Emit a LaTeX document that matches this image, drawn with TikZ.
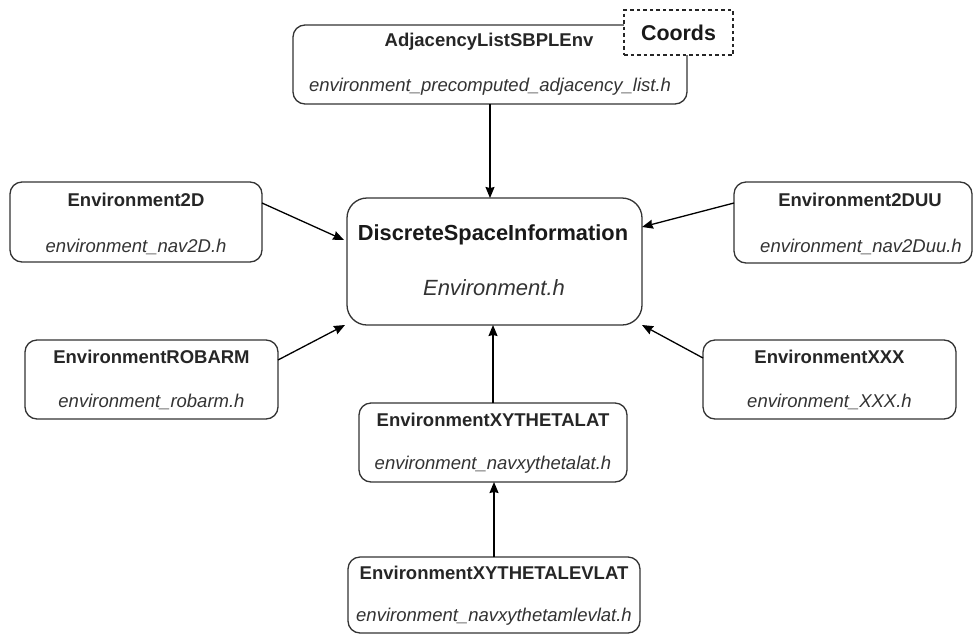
\documentclass[tikz,border=0pt]{standalone}
\usepackage{fontspec}
\setmainfont{Liberation Sans}
\usetikzlibrary{arrows.meta,calc}
\begin{document}
\begin{tikzpicture}[x=1pt,y=-1pt,
  box/.style={draw=black!80, line width=1.3pt, rounded corners=12pt, fill=white,
    inner sep=0pt, outer sep=0pt},
  bigbox/.style={box, rounded corners=20pt},
  tagbox/.style={draw=black!85, line width=1.3pt, dash pattern=on 3.5pt off 3pt,
    fill=white, inner sep=0pt, outer sep=0pt},
  title/.style={text=black!85, font=\fontsize{18.5}{22}\selectfont\bfseries},
  bigtitle/.style={text=black!90, font=\fontsize{21.8}{26}\selectfont\bfseries},
  file/.style={text=black!80, font=\fontsize{18.5}{22}\selectfont\itshape},
  bigfile/.style={text=black!80, font=\fontsize{22}{26}\selectfont\itshape},
  link/.style={line width=1.3pt, -{Stealth[length=11pt,width=9pt,inset=1pt]}}
]
\useasboundingbox (0,0) rectangle (976,635);

% class boxes
\node[box, minimum width=394pt, minimum height=79pt] (adj) at (490,64.5) {};
\node[tagbox, minimum width=109pt, minimum height=45pt] (coords) at (678.5,32.5) {};
\node[box, minimum width=252pt, minimum height=80pt] (env2d) at (136,222) {};
\node[bigbox, minimum width=295pt, minimum height=127pt] (dsi) at (494.5,261.5) {};
\node[box, minimum width=238pt, minimum height=81pt] (env2duu) at (853,222.5) {};
\node[box, minimum width=253pt, minimum height=79pt] (robarm) at (151.5,379.5) {};
\node[box, minimum width=253pt, minimum height=79pt] (xxx) at (829.5,379.5) {};
\node[box, minimum width=268pt, minimum height=79pt] (lat) at (493,442.5) {};
\node[box, minimum width=292pt, minimum height=76pt] (levlat) at (494,595) {};

% class names and header files
\node[title] (adjT) at (489,42) {AdjacencyListSBPLEnv};
\node[file] (adjF) at (490,87) {environment\_precomputed\_adjacency\_list.h};
\node[bigtitle, font=\fontsize{21.4}{26}\selectfont\bfseries] (coordsT) at (coords) {Coords};

\node[title] (env2dT) at (136,200) {Environment2D};
\node[file] (env2dF) at (136,247) {environment\_nav2D.h};

\node[bigtitle] (dsiT) at (493,235) {DiscreteSpaceInformation};
\node[bigfile] (dsiF) at (494,288) {Environment.h};

\node[title] (env2duuT) at (860,200) {Environment2DUU};
\node[file] (env2duuF) at (861,247) {environment\_nav2Duu.h};

\node[title] (robarmT) at (151.5,357) {EnvironmentROBARM};
\node[file] (robarmF) at (151.5,402) {environment\_robarm.h};

\node[title] (xxxT) at (829.5,357) {EnvironmentXXX};
\node[file] (xxxF) at (829.5,402) {environment\_XXX.h};

\node[title] (latT) at (493,420) {EnvironmentXYTHETALAT};
\node[file] (latF) at (493,465) {environment\_navxythetalat.h};

\node[title] (levlatT) at (494,573) {EnvironmentXYTHETALEVLAT};
\node[file] (levlatF) at (494,617) {environment\_navxythetamlevlat.h};

% inheritance links
\draw[link] (adj.south) -- (adj.south |- dsi.north);
\draw[link] ([yshift=19pt]env2d.east) -- ([xshift=-3pt,yshift=21.5pt]dsi.west);
\draw[link] ([yshift=19.5pt]env2duu.west) -- ([yshift=34.5pt]dsi.east);
\draw[link] ([yshift=19.5pt]robarm.east) -- ([xshift=-2pt]dsi.south west);
\draw[link] ([yshift=21.5pt]xxx.west) -- (dsi.south east);
\draw[link] (lat.north) -- (lat.north |- dsi.south);
\draw[link] (levlat.north) -- (levlat.north |- lat.south);
\end{tikzpicture}
\end{document}
